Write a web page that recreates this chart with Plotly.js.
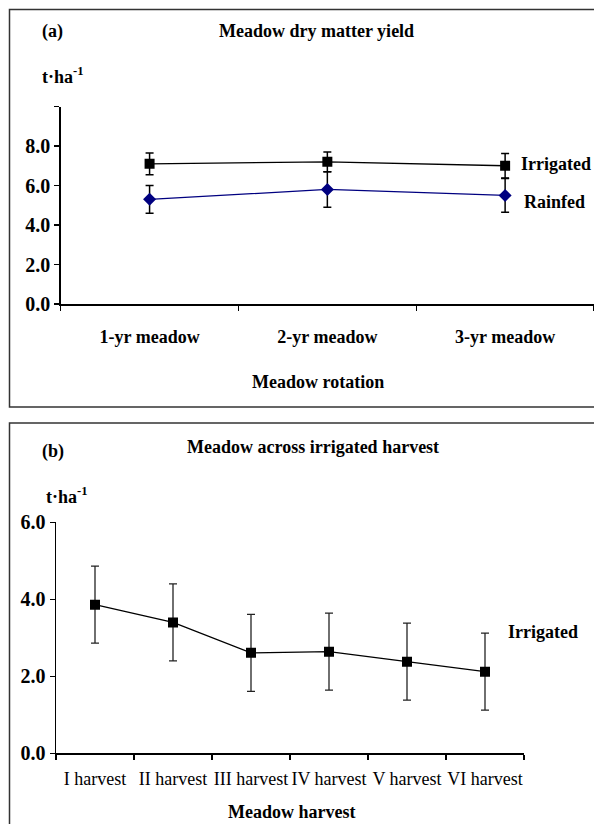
<!DOCTYPE html>
<html>
<head>
<meta charset="utf-8">
<script src="https://cdn.plot.ly/plotly-3.0.1.min.js"></script>
<style>html,body{margin:0;padding:0;background:#fff;}#chart{width:594px;height:824px;}</style>
</head>
<body>
<div id="chart"></div>
<script>
// ---- data ----
const rotationCats = ['1-yr meadow', '2-yr meadow', '3-yr meadow'];
const irrigatedYield = [7.1, 7.2, 7.0];
const irrigatedErr = [0.55, 0.5, 0.62];
const rainfedYield = [5.3, 5.8, 5.5];
const rainfedErr = [0.7, 0.9, 0.85];

const harvestCats = ['I harvest', 'II harvest', 'III harvest', 'IV harvest', 'V harvest', 'VI harvest'];
const harvestYield = [3.86, 3.40, 2.61, 2.64, 2.38, 2.12];
const harvestErr = [1.0, 1.0, 1.0, 1.0, 1.0, 1.0];

const yTicksA = [0, 2, 4, 6, 8, 10];
const yTickTextA = ['0.0', '2.0', '4.0', '6.0', '8.0', ' '];
const yTicksB = [0, 2, 4, 6];
const yTickTextB = ['0.0', '2.0', '4.0', '6.0'];

// ---- helpers ----
const W = 594, H = 824;
const px = x => x / W;
const py = y => 1 - y / H;
const FONT = 'Liberation Serif, Times New Roman, serif';

const traces = [
  {
    x: rotationCats, y: irrigatedYield, type: 'scatter', mode: 'lines+markers',
    xaxis: 'x', yaxis: 'y',
    line: {color: '#000', width: 1.3},
    marker: {symbol: 'square', size: 10, color: '#000'},
    error_y: {type: 'data', array: irrigatedErr, visible: true, color: '#000', thickness: 1.5, width: 4}
  },
  {
    x: rotationCats, y: rainfedYield, type: 'scatter', mode: 'lines+markers',
    xaxis: 'x', yaxis: 'y',
    line: {color: '#000080', width: 1.3},
    marker: {symbol: 'diamond', size: 10, color: '#000080'},
    error_y: {type: 'data', array: rainfedErr, visible: true, color: '#000', thickness: 1.5, width: 4}
  },
  {
    x: harvestCats, y: harvestYield, type: 'scatter', mode: 'lines+markers',
    xaxis: 'x2', yaxis: 'y2',
    line: {color: '#000', width: 1.3},
    marker: {symbol: 'square', size: 10, color: '#000'},
    error_y: {type: 'data', array: harvestErr, visible: true, color: '#222', thickness: 1.3, width: 4}
  }
];

const axisCommon = {
  showgrid: false, zeroline: false, showline: true, linecolor: '#000', linewidth: 1.5,
  ticks: 'outside', ticklen: 5, tickcolor: '#000', tickwidth: 1.3
};

const layout = {
  width: W, height: H,
  margin: {l: 0, r: 0, t: 0, b: 0},
  paper_bgcolor: '#fff', plot_bgcolor: 'rgba(0,0,0,0)',
  showlegend: false,
  font: {family: FONT, color: '#000'},
  xaxis: Object.assign({}, axisCommon, {
    domain: [px(60.7), 1], anchor: 'y', type: 'category', range: [-0.5, 2.5],
    tickson: 'boundaries', ticklabelstandoff: 16, tickangle: 0,
    tickfont: {family: FONT, size: 18, weight: 'bold', color: '#000'}
  }),
  yaxis: Object.assign({}, axisCommon, {
    domain: [py(304), py(106.5)], anchor: 'x', range: [0, 10],
    tickvals: yTicksA, ticktext: yTickTextA,
    tickfont: {family: FONT, size: 20, weight: 'bold', color: '#000'}
  }),
  xaxis2: Object.assign({}, axisCommon, {
    domain: [px(56), px(524)], anchor: 'y2', type: 'category', range: [-0.5, 5.5],
    tickson: 'boundaries', ticklabelstandoff: 9, tickangle: 0,
    tickfont: {family: FONT, size: 18, color: '#000'}
  }),
  yaxis2: Object.assign({}, axisCommon, {
    domain: [py(753.3), py(522.3)], anchor: 'x2', range: [0, 6],
    tickvals: yTicksB, ticktext: yTickTextB,
    tickfont: {family: FONT, size: 20, weight: 'bold', color: '#000'}
  }),
  shapes: [
    {type: 'rect', xref: 'paper', yref: 'paper', x0: px(9.5), x1: px(610), y0: py(407), y1: py(9.5),
     line: {color: '#333', width: 1.5}, fillcolor: 'rgba(0,0,0,0)'},
    {type: 'rect', xref: 'paper', yref: 'paper', x0: px(9.5), x1: px(610), y0: py(840), y1: py(423),
     line: {color: '#333', width: 1.5}, fillcolor: 'rgba(0,0,0,0)'}
  ],
  annotations: [
    {text: '<b>(a)</b>', x: px(40), y: py(31), xanchor: 'left', yanchor: 'middle'},
    {text: '<b>Meadow dry matter yield</b>', x: px(316), y: py(31), xanchor: 'center', yanchor: 'middle'},
    {text: '<b>t·ha<sup>-1</sup></b>', x: px(40), y: py(75), xanchor: 'left', yanchor: 'middle'},
    {text: '<b>Irrigated</b>', x: px(519), y: py(164), xanchor: 'left', yanchor: 'middle'},
    {text: '<b>Rainfed</b>', x: px(522), y: py(202), xanchor: 'left', yanchor: 'middle'},
    {text: '<b>Meadow rotation</b>', x: px(318), y: py(382), xanchor: 'center', yanchor: 'middle'},
    {text: '<b>(b)</b>', x: px(40), y: py(451), xanchor: 'left', yanchor: 'middle'},
    {text: '<b>Meadow across irrigated harvest</b>', x: px(313), y: py(447), xanchor: 'center', yanchor: 'middle'},
    {text: '<b>t·ha<sup>-1</sup></b>', x: px(44), y: py(495), xanchor: 'left', yanchor: 'middle'},
    {text: '<b>Irrigated</b>', x: px(506), y: py(632), xanchor: 'left', yanchor: 'middle'},
    {text: '<b>Meadow harvest</b>', x: px(291), y: py(812), xanchor: 'center', yanchor: 'middle'}
  ].map(a => Object.assign({xref: 'paper', yref: 'paper', showarrow: false,
                            font: {family: FONT, size: 18, color: '#000'}}, a))
};

Plotly.newPlot('chart', traces, layout, {staticPlot: true, displayModeBar: false});
</script>
</body>
</html>
